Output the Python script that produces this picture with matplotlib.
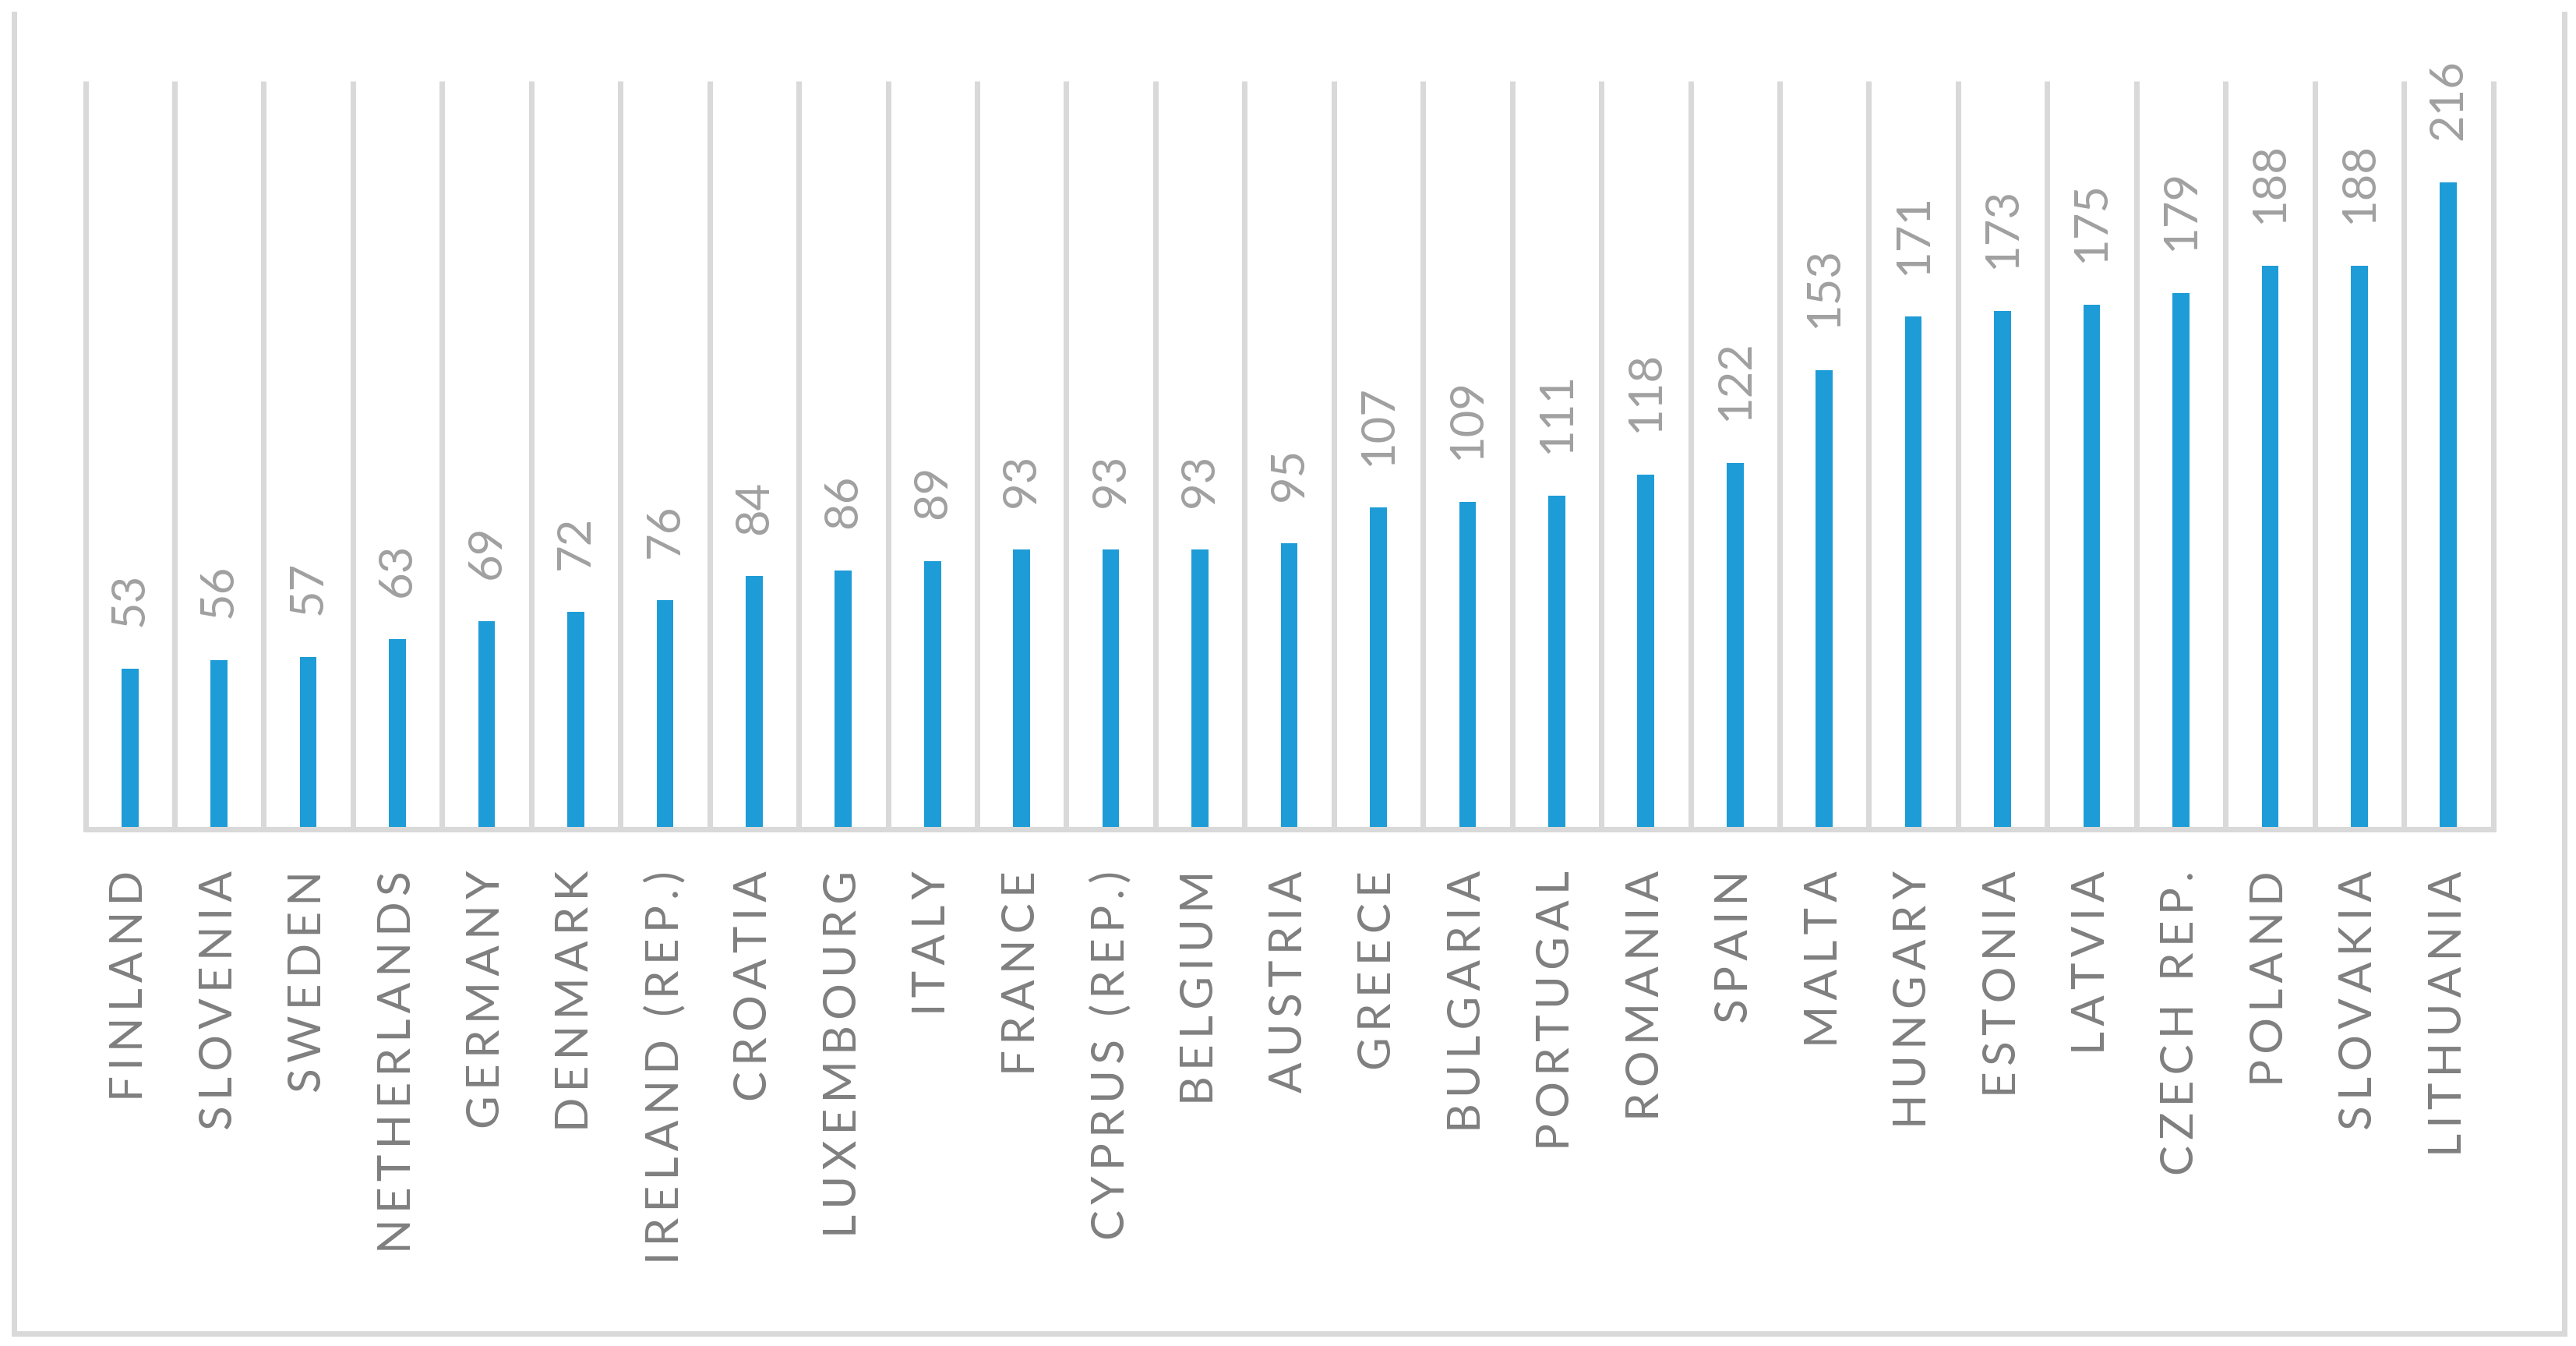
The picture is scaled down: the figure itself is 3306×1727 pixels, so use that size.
import matplotlib
matplotlib.use("Agg")
import matplotlib.pyplot as plt
import numpy as np
from matplotlib.lines import Line2D

# data
countries = ["FINLAND", "SLOVENIA", "SWEDEN", "NETHERLANDS", "GERMANY", "DENMARK",
             "IRELAND (REP.)", "CROATIA", "LUXEMBOURG", "ITALY", "FRANCE",
             "CYPRUS (REP.)", "BELGIUM", "AUSTRIA", "GREECE", "BULGARIA",
             "PORTUGAL", "ROMANIA", "SPAIN", "MALTA", "HUNGARY", "ESTONIA",
             "LATVIA", "CZECH REP.", "POLAND", "SLOVAKIA", "LITHUANIA"]
values = [53, 56, 57, 63, 69, 72, 76, 84, 86, 89, 93, 93, 93, 95, 107, 109,
          111, 118, 122, 153, 171, 173, 175, 179, 188, 188, 216]

barColor = "#1e9cd7"
gridColor = "#d9d9d9"
labelColor = "#7f7f7f"
valueColor = "#a0a0a0"
fontList = ["Lato", "DejaVu Sans"]

DPI = 200
W, H = 3306, 1727
lineWidth = 7 * 72 / DPI  # 7 px


def spaceOut(text, gap="\u2009"):
    """Fake Excel's expanded letter spacing."""
    return gap.join(text)


fig = plt.figure(figsize=(W / DPI, H / DPI), dpi=DPI)
ax = fig.add_axes([109.5 / W, 1 - 1061 / H, 3090 / W, 957 / H])

x = np.arange(len(countries))
ax.bar(x, values, width=0.19, color=barColor, zorder=3)

ax.set_xlim(-0.5, len(countries) - 0.5)
ax.set_ylim(0, 250)

# vertical separators between categories
ax.vlines(np.arange(-0.5, len(countries)), 0, 250, colors=gridColor,
          linewidth=lineWidth, zorder=1, clip_on=False)

for side in ["top", "left", "right"]:
    ax.spines[side].set_visible(False)
ax.spines["bottom"].set_color(gridColor)
ax.spines["bottom"].set_linewidth(lineWidth)
ax.spines["bottom"].set_position(("outward", 1.2))
ax.spines["bottom"].set_zorder(2)

ax.set_yticks([])
ax.set_xticks(x)
ax.set_xticklabels([spaceOut(c) for c in countries], rotation=90,
                   fontsize=21, color=labelColor, family=fontList)
ax.tick_params(axis="x", length=0, pad=19)

for xi, v in zip(x, values):
    ax.annotate(str(v), (xi, v), xytext=(0, 19.4), textcoords="offset points",
                rotation=90, ha="center", va="bottom", fontsize=21.5,
                color=valueColor, family=fontList)

# chart border (top edge is cropped off in the source)
bx0, bx1 = 17.5 / W, 3291 / W
by0, by1 = 1 - 1711 / H, 1 - 18 / H
for xs, ys in [([bx0, bx0], [by0, by1]), ([bx0, bx1], [by0, by0]), ([bx1, bx1], [by0, by1])]:
    fig.add_artist(Line2D(xs, ys, color=gridColor, linewidth=lineWidth,
                          transform=fig.transFigure, solid_capstyle="projecting"))

fig.savefig("out.png", dpi=DPI, facecolor="white")
